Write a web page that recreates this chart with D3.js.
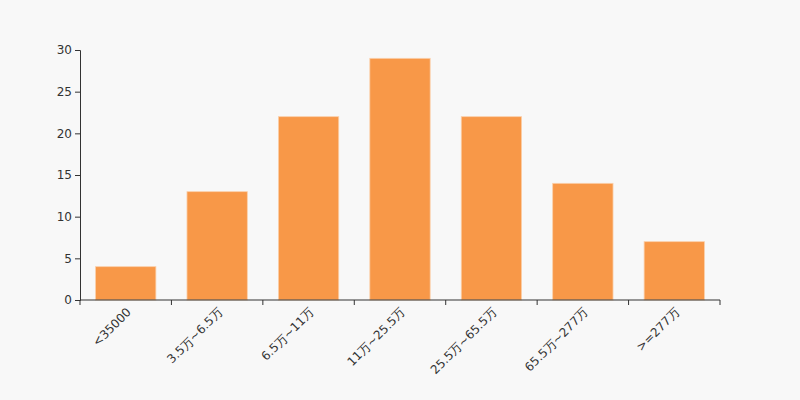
<!DOCTYPE html>
<html><head><meta charset="utf-8">
<script src="https://cdn.jsdelivr.net/npm/d3@7"></script>
<style>body{margin:0;background:#f8f8f8;}svg{display:block;font-family:"DejaVu Sans",sans-serif;}</style>
</head><body><svg id="c" width="800" height="400"></svg>
<script>
const categories = ["<35000","3.5万~6.5万","6.5万~11万","11万~25.5万","25.5万~65.5万","65.5万~277万",">=277万"];
const values = [4,13,22,29,22,14,7];
const yTicks = [0,5,10,15,20,25,30];

const svg = d3.select("#c");
svg.append("rect").attr("width",800).attr("height",400).attr("fill","#f8f8f8");
const m = {l:80, r:720, t:50, b:300};
const x = d3.scaleBand().domain(categories).range([m.l,m.r]).paddingInner(0.34).paddingOuter(0.17);
const y = d3.scaleLinear().domain([0,30]).range([m.b,m.t]);

svg.append("g").selectAll("rect").data(values).join("rect")
  .attr("x",(d,i)=>x(categories[i]))
  .attr("width",x.bandwidth())
  .attr("y",d=>y(d))
  .attr("height",d=>y(0)-y(d))
  .attr("fill","#f89848")
  .attr("stroke","#fbd0ab").attr("stroke-width",0.8);

const ya = svg.append("g").attr("transform",`translate(${m.l},0)`)
  .call(d3.axisLeft(y).tickValues(yTicks).tickSize(5).tickPadding(3));
ya.selectAll("text").attr("font-size",12).attr("fill","#333").attr("font-family","DejaVu Sans");
ya.selectAll("line,path").attr("stroke","#333");

const step = x.step();
const xa = svg.append("g").attr("transform",`translate(0,${m.b})`);
xa.append("line").attr("x1",m.l).attr("x2",m.r).attr("stroke","#333");
const bounds = d3.range(categories.length+1).map(i=>m.l+i*step);
xa.selectAll("line.t").data(bounds).join("line").attr("class","t")
  .attr("x1",d=>d).attr("x2",d=>d).attr("y1",0).attr("y2",5).attr("stroke","#333");
xa.selectAll("text").data(categories).join("text")
  .attr("transform",d=>`translate(${x(d)+x.bandwidth()/2+3},${10}) rotate(-45)`)
  .attr("text-anchor","end").attr("dy","0.35em")
  .attr("font-size",12).attr("fill","#333")
  .text(d=>d);
</script></body></html>
